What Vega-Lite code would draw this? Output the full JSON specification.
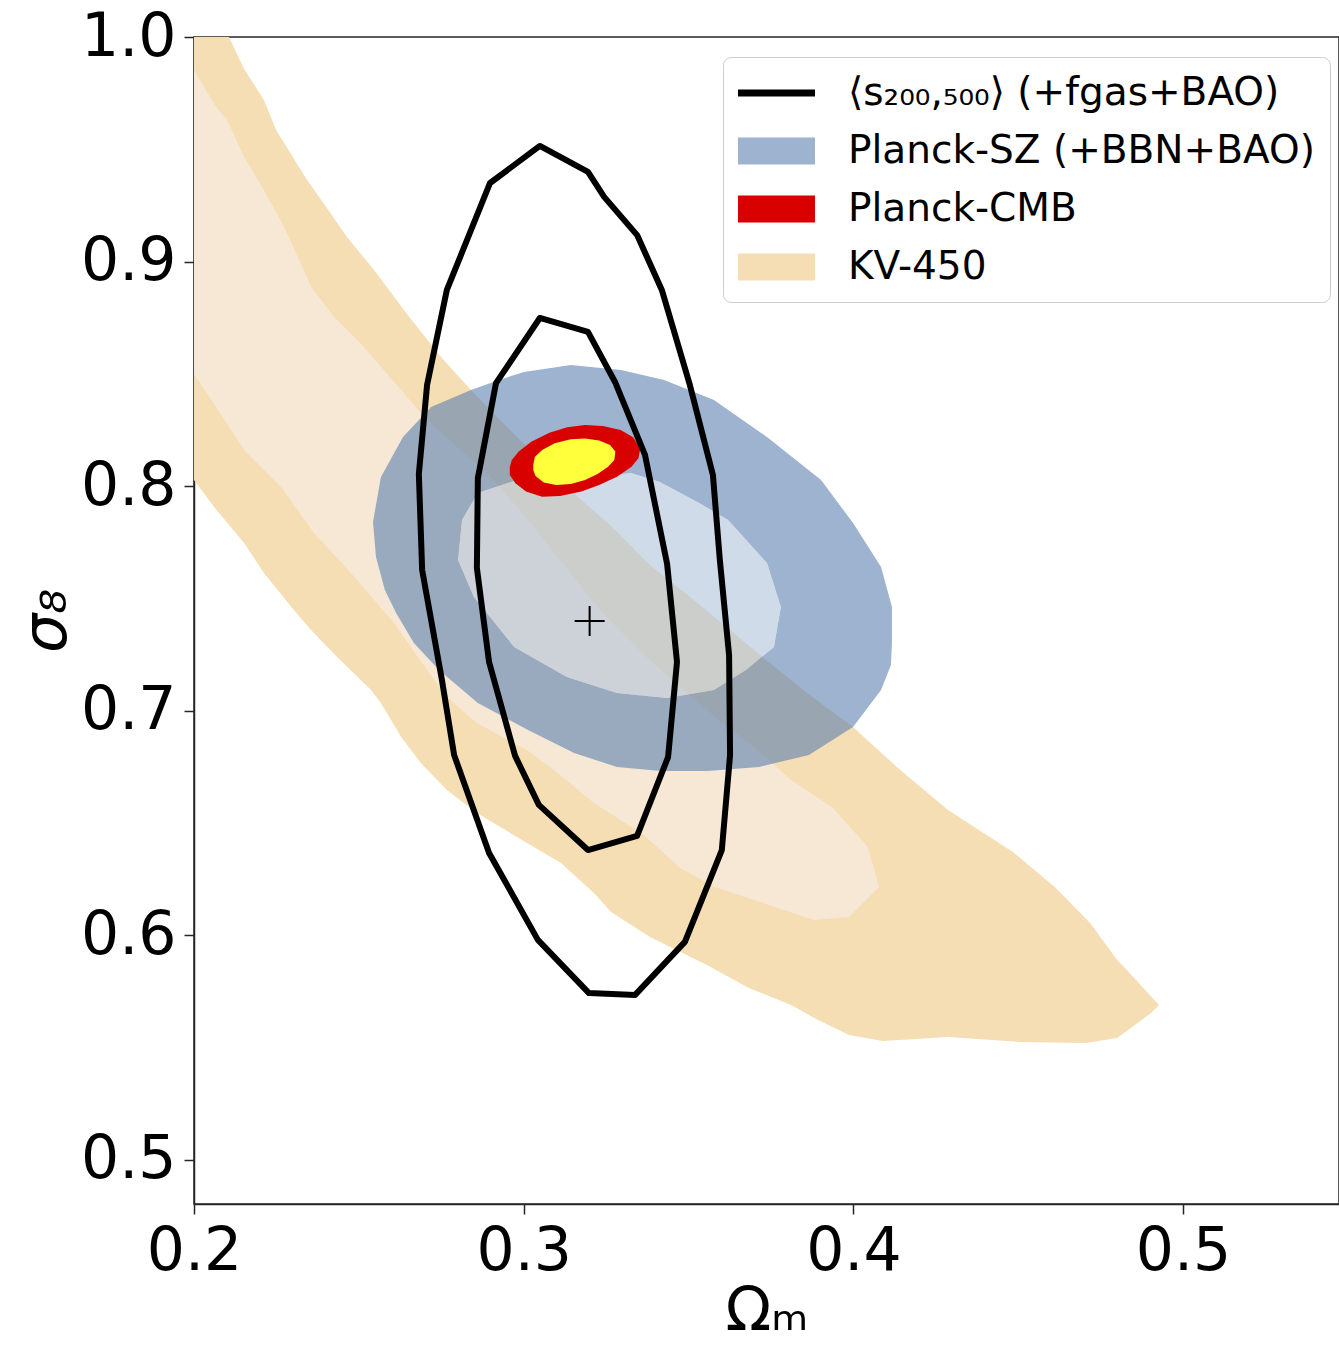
{
  "$schema": "https://vega.github.io/schema/vega-lite/v6.json",
  "width": 1145,
  "height": 1167,
  "autosize": {"type": "none"},
  "padding": {"left": 194, "top": 37, "right": 0, "bottom": 148},
  "background": "white",
  "datasets": {
    "kvOuter": [
      {"i":0,"x":0.2,"y":1.0},{"i":1,"x":0.2106,"y":1.0},{"i":2,"x":0.2152,"y":0.9858},{"i":3,"x":0.2212,"y":0.9720},
      {"i":4,"x":0.2249,"y":0.9586},{"i":5,"x":0.2343,"y":0.9363},{"i":6,"x":0.2416,"y":0.9212},{"i":7,"x":0.2464,"y":0.9110},
      {"i":8,"x":0.2546,"y":0.8963},{"i":9,"x":0.2646,"y":0.8767},{"i":10,"x":0.2749,"y":0.8575},{"i":11,"x":0.2840,"y":0.8428},
      {"i":12,"x":0.2928,"y":0.8295},{"i":13,"x":0.3019,"y":0.8161},{"i":14,"x":0.3140,"y":0.7983},{"i":15,"x":0.3262,"y":0.7827},
      {"i":16,"x":0.3383,"y":0.7649},{"i":17,"x":0.3535,"y":0.7471},{"i":18,"x":0.3717,"y":0.7248},{"i":19,"x":0.3868,"y":0.7070},
      {"i":20,"x":0.3999,"y":0.6928},{"i":21,"x":0.4135,"y":0.6745},{"i":22,"x":0.4287,"y":0.6558},{"i":23,"x":0.4484,"y":0.6371},
      {"i":24,"x":0.4611,"y":0.6215},{"i":25,"x":0.4718,"y":0.6055},{"i":26,"x":0.4800,"y":0.5890},{"i":27,"x":0.4821,"y":0.5859},
      {"i":28,"x":0.4927,"y":0.5690},{"i":29,"x":0.4903,"y":0.5654},{"i":30,"x":0.4800,"y":0.5543},{"i":31,"x":0.4705,"y":0.5521},
      {"i":32,"x":0.4508,"y":0.5525},{"i":33,"x":0.4287,"y":0.5548},{"i":34,"x":0.4090,"y":0.5530},{"i":35,"x":0.3987,"y":0.5557},
      {"i":36,"x":0.3893,"y":0.5623},{"i":37,"x":0.3811,"y":0.5690},{"i":38,"x":0.3683,"y":0.5766},{"i":39,"x":0.3556,"y":0.5868},
      {"i":40,"x":0.3383,"y":0.5993},{"i":41,"x":0.3265,"y":0.6104},{"i":42,"x":0.3213,"y":0.6189},{"i":43,"x":0.3113,"y":0.6322},
      {"i":44,"x":0.3010,"y":0.6411},{"i":45,"x":0.2858,"y":0.6545},{"i":46,"x":0.2767,"y":0.6647},{"i":47,"x":0.2688,"y":0.6768},
      {"i":48,"x":0.2628,"y":0.6884},{"i":49,"x":0.2567,"y":0.7035},{"i":50,"x":0.2537,"y":0.7093},{"i":51,"x":0.2434,"y":0.7240},
      {"i":52,"x":0.2355,"y":0.7360},{"i":53,"x":0.2303,"y":0.7449},{"i":54,"x":0.2212,"y":0.7614},{"i":55,"x":0.2152,"y":0.7747},
      {"i":56,"x":0.2061,"y":0.7907},{"i":57,"x":0.2,"y":0.8028}
    ],
    "kvInner": [
      {"i":0,"x":0.2,"y":0.9853},{"i":1,"x":0.2061,"y":0.9702},{"i":2,"x":0.2100,"y":0.9630},{"i":3,"x":0.2152,"y":0.9466},
      {"i":4,"x":0.2212,"y":0.9319},{"i":5,"x":0.2273,"y":0.9154},{"i":6,"x":0.2325,"y":0.8989},{"i":7,"x":0.2355,"y":0.8887},
      {"i":8,"x":0.2425,"y":0.8753},{"i":9,"x":0.2507,"y":0.8633},{"i":10,"x":0.2576,"y":0.8517},{"i":11,"x":0.2646,"y":0.8397},
      {"i":12,"x":0.2707,"y":0.8295},{"i":13,"x":0.2798,"y":0.8174},{"i":14,"x":0.2880,"y":0.8072},{"i":15,"x":0.2989,"y":0.7894},
      {"i":16,"x":0.3110,"y":0.7671},{"i":17,"x":0.3231,"y":0.7449},{"i":18,"x":0.3371,"y":0.7240},{"i":19,"x":0.3580,"y":0.6972},
      {"i":20,"x":0.3720,"y":0.6812},{"i":21,"x":0.3811,"y":0.6692},{"i":22,"x":0.3938,"y":0.6567},{"i":23,"x":0.4044,"y":0.6394},
      {"i":24,"x":0.4078,"y":0.6215},{"i":25,"x":0.3987,"y":0.6082},{"i":26,"x":0.3880,"y":0.6069},{"i":27,"x":0.3580,"y":0.6215},
      {"i":28,"x":0.3474,"y":0.6300},{"i":29,"x":0.3365,"y":0.6447},{"i":30,"x":0.3213,"y":0.6589},{"i":31,"x":0.3092,"y":0.6736},
      {"i":32,"x":0.3010,"y":0.6825},{"i":33,"x":0.2858,"y":0.6946},{"i":34,"x":0.2767,"y":0.7061},{"i":35,"x":0.2685,"y":0.7226},
      {"i":36,"x":0.2607,"y":0.7391},{"i":37,"x":0.2476,"y":0.7614},{"i":38,"x":0.2364,"y":0.7792},{"i":39,"x":0.2264,"y":0.7996},
      {"i":40,"x":0.2152,"y":0.8161},{"i":41,"x":0.2061,"y":0.8366},{"i":42,"x":0.2,"y":0.8500}
    ],
    "szOuter": [
      {"i":0,"x":0.3143,"y":0.8540},{"i":1,"x":0.3001,"y":0.8508},{"i":2,"x":0.2925,"y":0.8473},{"i":3,"x":0.2840,"y":0.8428},
      {"i":4,"x":0.2719,"y":0.8353},{"i":5,"x":0.2634,"y":0.8219},{"i":6,"x":0.2567,"y":0.8041},{"i":7,"x":0.2543,"y":0.7841},
      {"i":8,"x":0.2552,"y":0.7685},{"i":9,"x":0.2579,"y":0.7538},{"i":10,"x":0.2613,"y":0.7435},{"i":11,"x":0.2667,"y":0.7302},
      {"i":12,"x":0.2743,"y":0.7182},{"i":13,"x":0.2861,"y":0.7035},{"i":14,"x":0.3013,"y":0.6915},{"i":15,"x":0.3153,"y":0.6812},
      {"i":16,"x":0.3283,"y":0.6750},{"i":17,"x":0.3416,"y":0.6732},{"i":18,"x":0.3556,"y":0.6732},{"i":19,"x":0.3714,"y":0.6750},
      {"i":20,"x":0.3865,"y":0.6803},{"i":21,"x":0.3999,"y":0.6928},{"i":22,"x":0.4084,"y":0.7093},{"i":23,"x":0.4114,"y":0.7204},
      {"i":24,"x":0.4117,"y":0.7302},{"i":25,"x":0.4117,"y":0.7462},{"i":26,"x":0.4084,"y":0.7640},{"i":27,"x":0.3999,"y":0.7836},
      {"i":28,"x":0.3902,"y":0.8028},{"i":29,"x":0.3738,"y":0.8219},{"i":30,"x":0.3577,"y":0.8384},{"i":31,"x":0.3426,"y":0.8473},
      {"i":32,"x":0.3295,"y":0.8517},{"i":33,"x":0.3143,"y":0.8540},
      {"i":34,"x":0.3201,"y":0.8036},{"i":35,"x":0.3325,"y":0.8059},{"i":36,"x":0.3413,"y":0.8019},{"i":37,"x":0.3532,"y":0.7925},
      {"i":38,"x":0.3620,"y":0.7849},{"i":39,"x":0.3738,"y":0.7658},{"i":40,"x":0.3780,"y":0.7462},{"i":41,"x":0.3759,"y":0.7284},
      {"i":42,"x":0.3674,"y":0.7182},{"i":43,"x":0.3577,"y":0.7093},{"i":44,"x":0.3435,"y":0.7057},{"i":45,"x":0.3283,"y":0.7079},
      {"i":46,"x":0.3131,"y":0.7150},{"i":47,"x":0.2971,"y":0.7284},{"i":48,"x":0.2849,"y":0.7507},{"i":49,"x":0.2801,"y":0.7671},
      {"i":50,"x":0.2813,"y":0.7849},{"i":51,"x":0.2861,"y":0.7970},{"i":52,"x":0.2980,"y":0.8028},{"i":53,"x":0.3080,"y":0.8019},
      {"i":54,"x":0.3201,"y":0.8036}
    ],
    "szInner": [
      {"i":0,"x":0.2980,"y":0.8028},{"i":1,"x":0.2861,"y":0.7970},{"i":2,"x":0.2813,"y":0.7849},{"i":3,"x":0.2801,"y":0.7671},
      {"i":4,"x":0.2849,"y":0.7507},{"i":5,"x":0.2971,"y":0.7284},{"i":6,"x":0.3131,"y":0.7150},{"i":7,"x":0.3283,"y":0.7079},
      {"i":8,"x":0.3435,"y":0.7057},{"i":9,"x":0.3577,"y":0.7093},{"i":10,"x":0.3674,"y":0.7182},{"i":11,"x":0.3759,"y":0.7284},
      {"i":12,"x":0.3780,"y":0.7462},{"i":13,"x":0.3738,"y":0.7658},{"i":14,"x":0.3620,"y":0.7849},{"i":15,"x":0.3532,"y":0.7925},
      {"i":16,"x":0.3413,"y":0.8019},{"i":17,"x":0.3325,"y":0.8059},{"i":18,"x":0.3201,"y":0.8036},{"i":19,"x":0.3080,"y":0.8019}
    ],
    "cmbOuter": [
      {"i":0,"x":0.2958,"y":0.8087},{"i":1,"x":0.2964,"y":0.8117},{"i":2,"x":0.2985,"y":0.8154},{"i":3,"x":0.3023,"y":0.8198},
      {"i":4,"x":0.3078,"y":0.8238},{"i":5,"x":0.3132,"y":0.8262},{"i":6,"x":0.3186,"y":0.8272},{"i":7,"x":0.3240,"y":0.8268},
      {"i":8,"x":0.3294,"y":0.8250},{"i":9,"x":0.3332,"y":0.8218},{"i":10,"x":0.3354,"y":0.8169},{"i":11,"x":0.3348,"y":0.8124},
      {"i":12,"x":0.3327,"y":0.8087},{"i":13,"x":0.3283,"y":0.8042},{"i":14,"x":0.3229,"y":0.8005},{"i":15,"x":0.3175,"y":0.7976},
      {"i":16,"x":0.3110,"y":0.7956},{"i":17,"x":0.3056,"y":0.7953},{"i":18,"x":0.3007,"y":0.7976},{"i":19,"x":0.2975,"y":0.8013},
      {"i":20,"x":0.2958,"y":0.8050}
    ],
    "cmbInner": [
      {"i":0,"x":0.3029,"y":0.8094},{"i":1,"x":0.3034,"y":0.8131},{"i":2,"x":0.3056,"y":0.8161},{"i":3,"x":0.3094,"y":0.8191},
      {"i":4,"x":0.3143,"y":0.8209},{"i":5,"x":0.3186,"y":0.8212},{"i":6,"x":0.3229,"y":0.8203},{"i":7,"x":0.3262,"y":0.8183},
      {"i":8,"x":0.3278,"y":0.8154},{"i":9,"x":0.3275,"y":0.8117},{"i":10,"x":0.3256,"y":0.8087},{"i":11,"x":0.3224,"y":0.8054},
      {"i":12,"x":0.3186,"y":0.8028},{"i":13,"x":0.3143,"y":0.8010},{"i":14,"x":0.3099,"y":0.8005},{"i":15,"x":0.3061,"y":0.8016},
      {"i":16,"x":0.3036,"y":0.8045},{"i":17,"x":0.3029,"y":0.8072}
    ],
    "sTwo": [
      {"i":0,"x":0.3049,"y":0.9515},{"i":1,"x":0.2898,"y":0.9350},{"i":2,"x":0.2767,"y":0.8874},{"i":3,"x":0.2707,"y":0.8451},
      {"i":4,"x":0.2682,"y":0.8054},{"i":5,"x":0.2692,"y":0.7627},{"i":6,"x":0.2752,"y":0.7137},{"i":7,"x":0.2789,"y":0.6803},
      {"i":8,"x":0.2895,"y":0.6367},{"i":9,"x":0.3043,"y":0.5980},{"i":10,"x":0.3198,"y":0.5743},{"i":11,"x":0.3338,"y":0.5735},
      {"i":12,"x":0.3489,"y":0.5971},{"i":13,"x":0.3601,"y":0.6380},{"i":14,"x":0.3626,"y":0.6803},{"i":15,"x":0.3623,"y":0.7248},
      {"i":16,"x":0.3595,"y":0.7671},{"i":17,"x":0.3574,"y":0.8050},{"i":18,"x":0.3504,"y":0.8451},{"i":19,"x":0.3419,"y":0.8874},
      {"i":20,"x":0.3344,"y":0.9118},{"i":21,"x":0.3244,"y":0.9288},{"i":22,"x":0.3195,"y":0.9399}
    ],
    "sOne": [
      {"i":0,"x":0.3049,"y":0.8749},{"i":1,"x":0.3195,"y":0.8687},{"i":2,"x":0.3277,"y":0.8464},{"i":3,"x":0.3368,"y":0.8139},
      {"i":4,"x":0.3435,"y":0.7654},{"i":5,"x":0.3465,"y":0.7217},{"i":6,"x":0.3438,"y":0.6794},{"i":7,"x":0.3344,"y":0.6443},
      {"i":8,"x":0.3195,"y":0.6380},{"i":9,"x":0.3046,"y":0.6581},{"i":10,"x":0.2974,"y":0.6799},{"i":11,"x":0.2895,"y":0.7217},
      {"i":12,"x":0.2858,"y":0.7636},{"i":13,"x":0.2861,"y":0.8036},{"i":14,"x":0.2916,"y":0.8459}
    ],
    "best": [{"x":0.32,"y":0.74}]
  },
  "encoding": {
    "x": {"field": "x", "type": "quantitative",
      "scale": {"domain": [0.2, 0.5473], "nice": false, "zero": false},
      "axis": {"values": [0.2, 0.3, 0.4, 0.5], "format": ".1f", "title": "Ωₘ", "titleFontSize": 60, "titlePadding": 1}},
    "y": {"field": "y", "type": "quantitative",
      "scale": {"domain": [0.4804, 1.0], "nice": false, "zero": false},
      "axis": {"values": [0.5, 0.6, 0.7, 0.8, 0.9, 1.0], "format": ".1f", "title": "σ₈", "titleFontStyle": "italic", "titleFontSize": 62, "titlePadding": 2}}
  },
  "layer": [
    {
      "data": {"name": "kvOuter"},
      "mark": {"type": "line", "interpolate": "linear-closed", "strokeWidth": 0, "strokeOpacity": 0, "clip": true},
      "encoding": {
        "order": {"field": "i", "type": "quantitative"},
        "fill": {"datum": "KV-450", "type": "nominal",
          "scale": {"domain": ["⟨s₂₀₀,₅₀₀⟩ (+fgas+BAO)", "Planck-SZ (+BBN+BAO)", "Planck-CMB", "KV-450"],
                    "range": ["#000000", "#9db3d0", "#d90000", "#f5deb3"]},
          "legend": {
            "orient": "none", "legendX": 529, "legendY": 20, "title": null,
            "labelFontSize": 39, "labelFont": "DejaVu Sans", "labelColor": "#000000",
            "symbolSize": 1764,
            "symbolType": {"expr": "datum.index === 0 ? 'M-1,-0.167H2.667V0.167H-1Z' : 'M-1,-0.643H2.667V0.643H-1Z'"},
            "symbolStrokeWidth": 0, "symbolStrokeColor": "transparent", "symbolOpacity": 1,
            "labelOffset": 68, "rowPadding": 17, "padding": 15,
            "fillColor": "rgba(255,255,255,0.8)", "strokeColor": "#cccccc", "cornerRadius": 8,
            "labelLimit": 900
          }}
      }
    },
    {
      "data": {"name": "kvInner"},
      "mark": {"type": "line", "interpolate": "linear-closed", "strokeWidth": 0, "strokeOpacity": 0, "fill": "#f6e8d5", "clip": true},
      "encoding": {"order": {"field": "i", "type": "quantitative"}}
    },
    {
      "data": {"name": "szOuter"},
      "mark": {"type": "line", "interpolate": "linear-closed", "strokeWidth": 0, "strokeOpacity": 0, "fill": "#5c80b1", "fillOpacity": 0.6, "clip": true},
      "encoding": {"order": {"field": "i", "type": "quantitative"}}
    },
    {
      "data": {"name": "szInner"},
      "mark": {"type": "line", "interpolate": "linear-closed", "strokeWidth": 0, "strokeOpacity": 0, "fill": "#b1c3da", "fillOpacity": 0.6, "clip": true},
      "encoding": {"order": {"field": "i", "type": "quantitative"}}
    },
    {
      "data": {"name": "cmbOuter"},
      "mark": {"type": "line", "interpolate": "linear-closed", "strokeWidth": 0, "strokeOpacity": 0, "clip": true},
      "encoding": {
        "order": {"field": "i", "type": "quantitative"},
        "fill": {"datum": "Planck-CMB", "type": "nominal"}
      }
    },
    {
      "data": {"name": "cmbInner"},
      "mark": {"type": "line", "interpolate": "linear-closed", "strokeWidth": 0, "strokeOpacity": 0, "fill": "#ffff3c", "clip": true},
      "encoding": {"order": {"field": "i", "type": "quantitative"}}
    },
    {
      "data": {"name": "sTwo"},
      "mark": {"type": "line", "interpolate": "linear-closed", "stroke": "#000000", "strokeWidth": 6, "strokeJoin": "round", "clip": true},
      "encoding": {"order": {"field": "i", "type": "quantitative"}}
    },
    {
      "data": {"name": "sOne"},
      "mark": {"type": "line", "interpolate": "linear-closed", "stroke": "#000000", "strokeWidth": 6, "strokeJoin": "round", "clip": true},
      "encoding": {"order": {"field": "i", "type": "quantitative"}}
    },
    {
      "data": {"name": "best"},
      "mark": {"type": "point", "shape": "M-1,0H1M0,-1V1", "size": 900, "filled": false, "stroke": "#000000", "strokeWidth": 2, "opacity": 1}
    }
  ],
  "config": {
    "font": "DejaVu Sans",
    "view": {"stroke": "#262626", "strokeWidth": 1.5},
    "axis": {
      "labelFontSize": 60, "labelColor": "#000000", "labelFont": "DejaVu Sans",
      "tickSize": 10, "tickWidth": 1.5, "tickColor": "#262626",
      "domainColor": "#262626", "domainWidth": 1.5, "grid": false,
      "labelFlush": false, "labelOverlap": false, "labelPadding": 8,
      "titleFontWeight": "normal", "titleColor": "#000000", "titleFont": "DejaVu Sans"
    }
  }
}
